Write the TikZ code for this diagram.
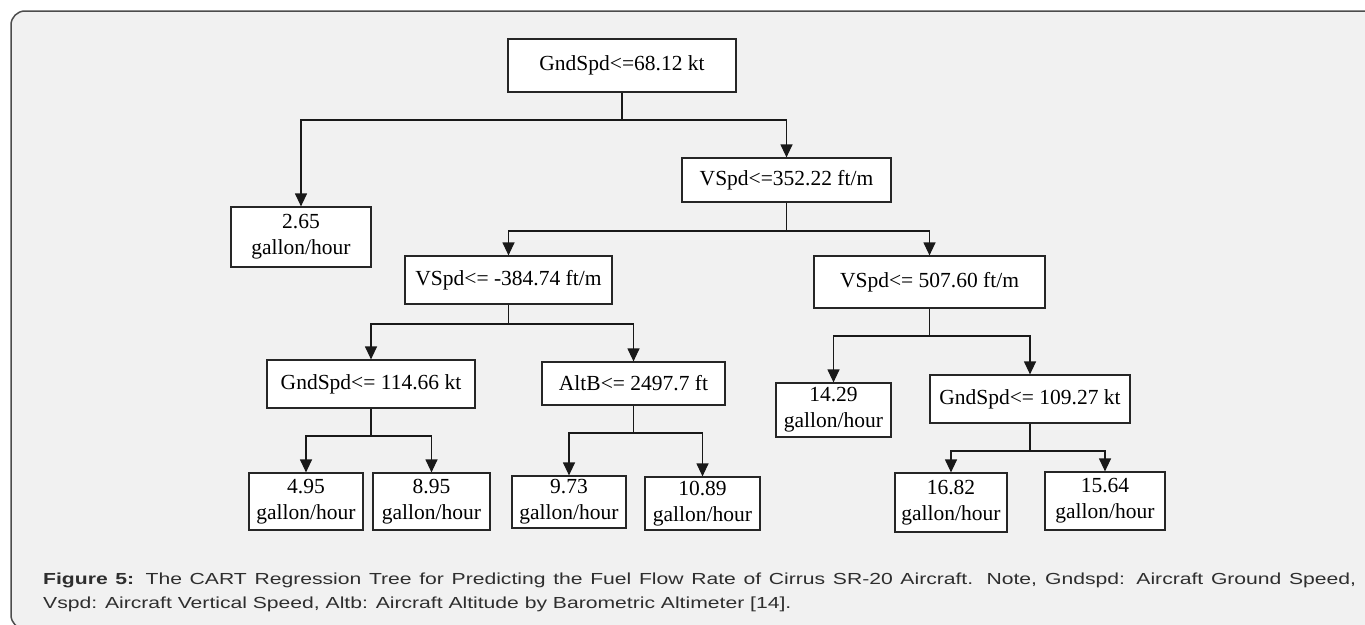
\documentclass[tikz,border=0pt]{standalone}
\usepackage{fontspec}
\setmainfont{Liberation Serif}
\setsansfont{Liberation Sans}
\newfontfamily\capfont[FakeStretch=1.32]{Liberation Sans}
\usetikzlibrary{arrows.meta}

\definecolor{panelgray}{HTML}{F1F1F1}
\definecolor{framegray}{HTML}{4D4D4D}
\definecolor{captiongray}{HTML}{2E2E2E}

\tikzset{
  box/.style={draw=black!85, fill=white, line width=1.2pt, align=center, inner sep=0pt,
    font=\fontsize{21.5}{25.8}\selectfont},
  stem/.style={line width=1.2pt, black!90},
  edge/.style={stem, -{Triangle[length=13pt,width=12pt]}},
}

\begin{document}
\begin{tikzpicture}[x=1pt,y=-1pt]
        \useasboundingbox (0,0) rectangle (1365,624);
        \clip (0,0) rectangle (1365,624);
        \draw[framegray, fill=panelgray, line width=1.5pt, rounded corners=14pt] (11,11) rectangle (1380,629);

        % tree nodes
        \node[box, minimum width=228pt, minimum height=53pt] (root)  at (622,65.5)   {GndSpd<=68.12 kt};
        \node[box, minimum width=140pt, minimum height=60pt] (l265)  at (301,237)    {2.65\\gallon/hour};
        \node[box, minimum width=209pt, minimum height=44pt] (v352)  at (786.5,180)  {VSpd<=352.22 ft/m};
        \node[box, minimum width=207pt, minimum height=48pt] (vm384) at (508.5,280)  {VSpd<= -384.74 ft/m};
        \node[box, minimum width=231pt, minimum height=52pt] (v507)  at (929.5,282)  {VSpd<= 507.60 ft/m};
        \node[box, minimum width=208pt, minimum height=48pt] (g114)  at (371,384)    {GndSpd<= 114.66 kt};
        \node[box, minimum width=183pt, minimum height=43pt] (altb)  at (633.5,383.5){AltB<= 2497.7 ft};
        \node[box, minimum width=115pt, minimum height=54pt] (l1429) at (833.5,410)  {14.29\\gallon/hour};
        \node[box, minimum width=200pt, minimum height=48pt] (g109)  at (1030,399)   {GndSpd<= 109.27 kt};
        \node[box, minimum width=114pt, minimum height=57pt] (l495)  at (306,501.5)  {4.95\\gallon/hour};
        \node[box, minimum width=117pt, minimum height=57pt] (l895)  at (431.5,501.5){8.95\\gallon/hour};
        \node[box, minimum width=114pt, minimum height=52pt] (l973)  at (569,502)    {9.73\\gallon/hour};
        \node[box, minimum width=115pt, minimum height=53pt] (l1089) at (702.5,503.5){10.89\\gallon/hour};
        \node[box, minimum width=112pt, minimum height=59pt] (l1682) at (951,502.5)  {16.82\\gallon/hour};
        \node[box, minimum width=120pt, minimum height=58pt] (l1564) at (1105,501)   {15.64\\gallon/hour};

        % splits
        \foreach \p/\jy/\a/\b in {root/120/l265/v352, v352/231/vm384/v507, vm384/324/g114/altb,
            v507/336/l1429/g109, g114/436/l495/l895, altb/433/l973/l1089, g109/451/l1682/l1564}{
        \coordinate (j-\p) at (\p.south |- 0,\jy);
        \draw[stem] (\p.south) -- (j-\p);
        \draw[edge] (j-\p) -| (\a.north);
        \draw[edge] (j-\p) -| (\b.north);
        }

        \node[anchor=north west, inner sep=0pt, text width=1313pt, align=justify, text=captiongray,
          font=\capfont\fontsize{16}{24}\selectfont] (cap) at (43,572.5)
          {\textbf{Figure 5:} The CART Regression Tree for Predicting the Fuel Flow Rate of Cirrus SR-20 Aircraft. Note, Gndspd: Aircraft Ground Speed,\linebreak
           Vspd: Aircraft Vertical Speed, Altb: Aircraft Altitude by Barometric Altimeter [14].};
\end{tikzpicture}
\end{document}
